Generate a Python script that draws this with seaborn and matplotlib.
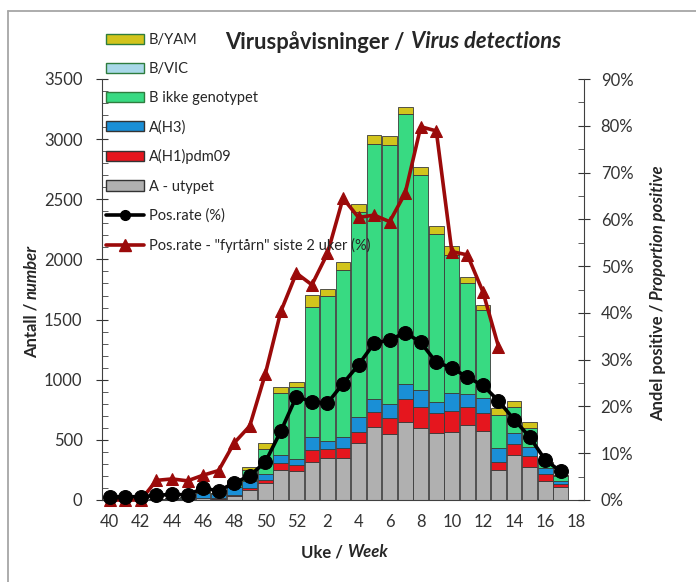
import numpy as np
import pandas as pd
import seaborn as sns
import matplotlib.pyplot as plt
from matplotlib.patches import Patch
from matplotlib.lines import Line2D
from matplotlib.ticker import MultipleLocator, FuncFormatter

sns.set_style("white")
plt.rcParams['font.family'] = ['Lato', 'DejaVu Sans']

# Weeks 40-52 and 1-18 (data through week 17)
weeks = [40, 41, 42, 43, 44, 45, 46, 47, 48, 49, 50, 51, 52,
         1, 2, 3, 4, 5, 6, 7, 8, 9, 10, 11, 12, 13, 14, 15, 16, 17, 18]

a_utypet = [1, 1, 1, 3, 4, 6, 15, 12, 33, 85, 145, 249, 244,
            319, 346, 346, 471, 604, 546, 651, 601, 560, 568, 620, 574, 249, 374, 277, 155, 105]
a_h1 = [0, 0, 0, 0, 1, 1, 3, 3, 8, 15, 25, 56, 44,
        97, 78, 84, 97, 125, 133, 186, 169, 160, 172, 150, 150, 64, 89, 89, 65, 30]
a_h3 = [1, 2, 2, 5, 8, 10, 40, 35, 65, 60, 45, 66, 50,
        110, 69, 91, 119, 111, 119, 127, 144, 92, 147, 110, 125, 117, 97, 77, 45, 25]
b_ikke = [0, 0, 0, 2, 3, 4, 12, 10, 50, 90, 210, 521, 599,
          1081, 1206, 1391, 1710, 2119, 2157, 2245, 1788, 1399, 1150, 926, 730, 277, 216, 153, 45, 40]
b_vic = [0, 0, 0, 0, 0, 0, 0, 0, 0, 0, 0, 0, 0,
         0, 0, 0, 0, 0, 0, 0, 0, 0, 0, 0, 0, 0, 0, 0, 0, 0]
b_yam = [0, 0, 0, 0, 0, 0, 2, 2, 10, 27, 50, 50, 46,
         97, 55, 66, 63, 75, 73, 55, 69, 67, 74, 50, 40, 55, 47, 50, 8, 5]

# Positivity rates (%)
pos_rate = [0.7, 0.7, 0.7, 1.0, 1.2, 1.1, 2.5, 2.0, 3.6, 5.2, 8.1, 14.7, 22.1,
            21.0, 20.7, 24.9, 28.9, 33.5, 34.2, 35.8, 33.7, 29.4, 28.3, 26.2, 24.5,
            21.2, 17.2, 13.5, 8.6, 6.1]
fyrtarn = [0, 0, 0, 4.2, 4.5, 4.1, 5.3, 6.3, 12.2, 15.8, 26.9, 40.3, 48.5,
           46.0, 52.7, 64.5, 60.4, 60.9, 59.5, 65.6, 79.8, 78.9, 53.1, 52.4, 44.5, 32.8]

series = {
    'B/YAM': b_yam,
    'B/VIC': b_vic,
    'B ikke genotypet': b_ikke,
    'A(H3)': a_h3,
    'A(H1)pdm09': a_h1,
    'A - utypet': a_utypet,
}
colors = {
    'B/YAM': '#d2c41c',
    'B/VIC': '#a8d8e8',
    'B ikke genotypet': '#38da82',
    'A(H3)': '#1a8fd6',
    'A(H1)pdm09': '#e5161e',
    'A - utypet': '#b0b0b0',
}

rows = []
for name, vals in series.items():
    for i, v in enumerate(vals):
        rows.append({'pos': i, 'type': name, 'count': v})
df = pd.DataFrame(rows)

W, H = 696, 582
def fx(px):
    return px / W
def fy(py):
    return 1 - py / H

fig = plt.figure(figsize=(6.96, 5.82), dpi=100)
ax = fig.add_axes([fx(102), fy(500), fx(584) - fx(102), fy(79) - fy(500)])

sns.histplot(data=df, x='pos', weights='count', hue='type',
             hue_order=list(series.keys()), multiple='stack', discrete=True,
             shrink=0.95, palette=colors, alpha=1, edgecolor='#3a3a3a',
             linewidth=0.6, legend=False, ax=ax)

ax.set_xlim(-0.5, len(weeks) - 0.5)
ax.set_ylim(0, 3500)
ax.yaxis.set_major_locator(MultipleLocator(500))
ax.yaxis.set_minor_locator(MultipleLocator(100))
ax.set_xticks(np.arange(0, len(weeks), 2))
ax.set_xticklabels([str(w) for w in weeks[::2]])
ax.set_xticks(np.arange(-0.5, len(weeks), 1), minor=True)
ax.tick_params(axis='x', which='major', length=0, labelsize=12, pad=10, colors='#333333')
ax.tick_params(axis='x', which='minor', length=6, direction='out', color='#404040')
ax.tick_params(axis='y', which='major', length=8, direction='inout', labelsize=12,
               colors='#333333', left=True, pad=10)
ax.tick_params(axis='y', which='minor', length=4, direction='in', left=True, color='#404040')
ax.set_xlabel('')
ax.set_ylabel('')
for s in ['top', 'right']:
    ax.spines[s].set_visible(False)
for s in ['left', 'bottom']:
    ax.spines[s].set_color('#404040')

ax2 = ax.twinx()
x_pos = np.arange(len(pos_rate))
x_fyr = np.arange(len(fyrtarn))
sns.lineplot(x=x_fyr, y=np.array(fyrtarn) / 100, ax=ax2, color='#9b0a0a', lw=2.6,
             marker='^', markersize=9, markeredgecolor='#9b0a0a', clip_on=False)
sns.lineplot(x=x_pos, y=np.array(pos_rate) / 100, ax=ax2, color='black', lw=2.6,
             marker='o', markersize=10, markeredgecolor='black', clip_on=False)
ax2.set_ylim(0, 0.9)
ax2.set_xlim(-0.5, len(weeks) - 0.5)
ax2.yaxis.set_major_locator(MultipleLocator(0.1))
ax2.yaxis.set_minor_locator(MultipleLocator(0.05))
ax2.yaxis.set_major_formatter(FuncFormatter(lambda v, p: '{:.0f}%'.format(v * 100)))
ax2.tick_params(axis='y', which='major', length=8, direction='inout', labelsize=12,
                colors='#333333', right=True, pad=8)
ax2.tick_params(axis='y', which='minor', length=4, direction='in', right=True, color='#404040')
ax2.set_ylabel('')
for s in ['top', 'left', 'bottom']:
    ax2.spines[s].set_visible(False)
ax2.spines['right'].set_color('#404040')

# Titles and axis labels with italic English parts
fig.text(fx(405), fy(42), 'Viruspåvisninger /', ha='right', va='center',
         fontsize=15.8, fontweight='bold')
fig.text(fx(411), fy(42), 'Virus detections', ha='left', va='center',
         fontsize=15.8, fontweight='bold', style='italic')
fig.text(fx(343), fy(552), 'Uke /', ha='right', va='center', fontsize=12, fontweight='bold')
fig.text(fx(347), fy(552), 'Week', ha='left', va='center', fontsize=12,
         fontweight='bold', style='italic')
fig.text(fx(32), fy(303), 'Antall /', ha='center', va='top', rotation=90,
         fontsize=12, fontweight='bold')
fig.text(fx(32), fy(299), 'number', ha='center', va='bottom', rotation=90,
         fontsize=12, fontweight='bold', style='italic')
fig.text(fx(658), fy(304), 'Andel positive /', ha='center', va='top', rotation=90,
         fontsize=12, fontweight='bold')
fig.text(fx(658), fy(300), 'Proportion positive', ha='center', va='bottom', rotation=90,
         fontsize=12, fontweight='bold', style='italic')

# Legend
handles = [Patch(facecolor=colors[k], edgecolor='#2e7d3e' if k.startswith('B') else '#333333',
                 linewidth=1) for k in series]
handles += [Line2D([], [], color='black', lw=2.6, marker='o', markersize=7),
            Line2D([], [], color='#9b0a0a', lw=2.6, marker='^', markersize=8)]
labels = list(series.keys()) + ['Pos.rate (%)', 'Pos.rate - "fyrtårn" siste 2 uker (%)']
fig.legend(handles, labels, loc='upper left', bbox_to_anchor=(fx(106), fy(33)),
           frameon=False, fontsize=10.5, handlelength=2.6, handleheight=0.7,
           handletextpad=0.35, labelspacing=1.03, borderpad=0, borderaxespad=0)

# Outer frame (left and top edges visible)
fig.add_artist(Line2D([fx(8), fx(8)], [0, fy(11)], transform=fig.transFigure,
                      color='#a6a6a6', lw=1.3))
fig.add_artist(Line2D([fx(8), 1], [fy(11), fy(11)], transform=fig.transFigure,
                      color='#a6a6a6', lw=1.3))

plt.savefig('out.png', dpi=100)
